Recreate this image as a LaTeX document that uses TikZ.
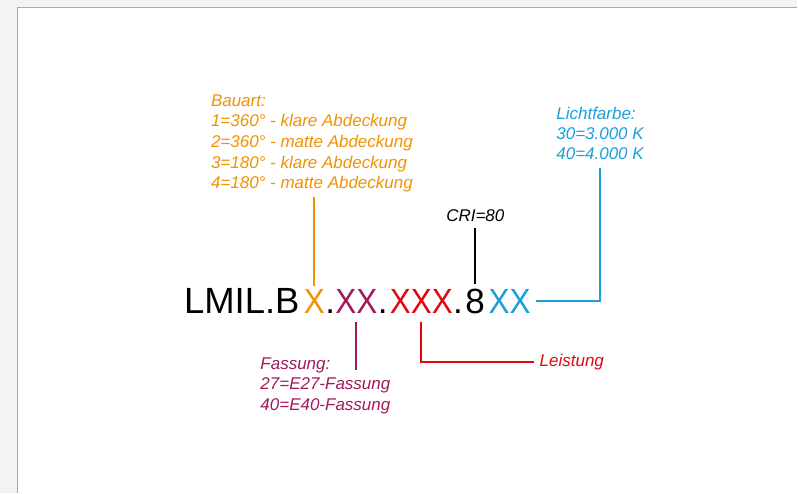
\documentclass[tikz,border=0pt]{standalone}
\usepackage{fontspec}
\setmainfont{Liberation Sans}
\newfontfamily\codeNarrow[FakeStretch=0.9]{Liberation Sans}
\usetikzlibrary{calc}
\definecolor{cOrange}{HTML}{F39200}
\definecolor{cPurple}{HTML}{A3195B}
\definecolor{cRed}{HTML}{E30613}
\definecolor{cBlue}{HTML}{1BA0DC}
\definecolor{cFrame}{HTML}{F29A3A}
\definecolor{cBg}{HTML}{F2F3F3}
\begin{document}
\begin{tikzpicture}[x=1pt,y=-1pt,
  code/.style={inner sep=0pt, anchor=base west, font=\fontsize{35}{40}\selectfont},
  codex/.style={code, font=\codeNarrow\fontsize{35}{40}\selectfont},
  lbl/.style={inner sep=0pt, anchor=base west, align=left, font=\fontsize{17}{20.7}\selectfont\itshape},
  conn/.style={line width=2pt}]
\fill[cBg] (0,0) rectangle (798,493);
\fill[white] (17.5,7.5) rectangle (798,493);
\draw[cFrame, line width=1.5pt] (17.5,493) -- (17.5,7.5) -- (798,7.5);
\useasboundingbox (0,0) rectangle (798,493);
% code line
\node[code, font=\fontsize{36.5}{40}\selectfont] (pre) at (184,313.3) {LMIL.B};
\node[codex, text=cOrange] (x1) at (304,313.3) {X};
\node[code] (d1) at (x1.base east) {.};
\node[codex, text=cPurple] (x2) at (335.5,313.3) {XX};
\node[code] (d2) at (x2.base east) {.};
\node[codex, text=cRed] (x3) at (390,313.3) {XXX};
\node[code] (d3) at (x3.base east) {.};
\node[code] (e) at (465.5,313.3) {8};
\node[codex, text=cBlue] (x4) at (489,313.3) {XX};
% labels (base anchor = baseline of the last line)
\node[lbl, text=cOrange] (bauart) at (211,189) {Bauart:\\1=360° - klare Abdeckung\\2=360° - matte Abdeckung\\3=180° - klare Abdeckung\\4=180° - matte Abdeckung};
\node[lbl, text=cPurple] (fassung) at (260.5,411) {Fassung:\\27=E27-Fassung\\40=E40-Fassung};
\node[lbl, text=cRed] (leistung) at (540,366.5) {Leistung};
\node[lbl] (cri) at (446.5,221.7) {CRI=80};
\node[lbl, text=cBlue, font=\fontsize{17}{19.8}\selectfont\itshape] (licht) at (556.7,159.5) {Lichtfarbe:\\30=3.000 K\\40=4.000 K};
% connectors
\draw[conn, cOrange] ($(x1.north)+(0,-3)$) -- ($(x1.north |- bauart.south)+(0,4.5)$);
\draw[conn, cPurple] ($(x2.south)+(0,9)$) -- ($(x2.south)+(0,57)$);
\draw[conn, cRed] ($(x3.south)+(0,9)$) |- ($(leistung.west)+(-6,0)$);
\draw[conn] ($(e.north)+(0,-4)$) -- ($(e.north |- cri.south)+(0,6)$);
\draw[conn, cBlue] ($(x4.east)+(5,0)$) -| ($(licht.south)+(0,8.5)$);
\end{tikzpicture}
\end{document}
